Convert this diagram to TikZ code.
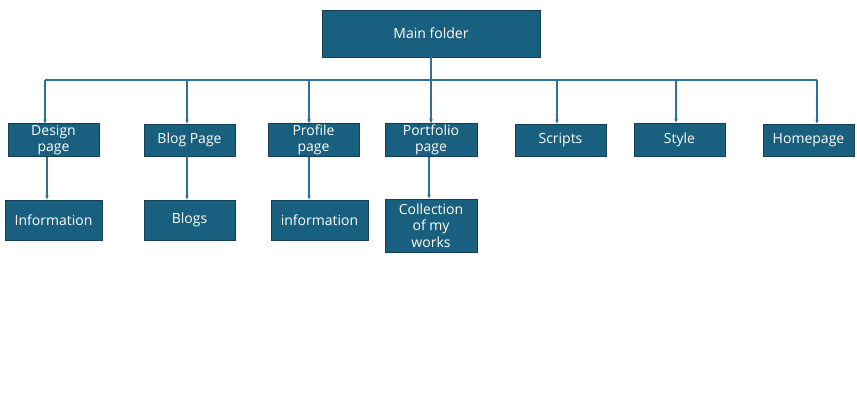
\documentclass[tikz,border=0pt]{standalone}
\usepackage{fontspec}
\setmainfont{Open Sans}
\usetikzlibrary{arrows.meta}
\definecolor{boxfill}{HTML}{185F80}
\definecolor{boxline}{HTML}{163E54}
\definecolor{linkcol}{HTML}{2F719A}

\begin{document}
\begin{tikzpicture}[x=1pt,y=-1pt,
  folder/.style={draw=boxline,fill=boxfill,text=white,line width=0.9pt,
    minimum height=32pt,align=center,font=\fontsize{14}{16.5}\selectfont,inner sep=1pt},
  link/.style={draw=linkcol,line width=1.2pt,-{Stealth[length=4pt,width=3.5pt]}}]
  \useasboundingbox (0,0) rectangle (857,406);

  \node[folder,minimum width=218pt,minimum height=47pt] (main) at (431,33.5) {Main folder};

  \node[folder,minimum width=91pt] (design) at (53.5,140) {Design\\page};
  \node[folder,minimum width=91pt] (blog) at (189.5,140) {Blog Page};
  \node[folder,minimum width=91pt] (profile) at (313.5,140) {Profile\\page};
  \node[folder,minimum width=92pt] (portfolio) at (431,140) {Portfolio\\page};
  \node[folder,minimum width=91pt] (scripts) at (560.5,140) {Scripts};
  \node[folder,minimum width=91pt,minimum height=33pt] (style) at (679.5,139.5) {Style};
  \node[folder,minimum width=91pt] (homepage) at (808.5,140) {Homepage};

  \node[folder,minimum width=97pt,minimum height=40pt] (info1) at (53.5,220) {Information};
  \node[folder,minimum width=91pt,minimum height=40pt] (blogs) at (189.5,220) {Blogs};
  \node[folder,minimum width=97pt,minimum height=40pt] (info2) at (319.5,220) {information};
  \node[folder,minimum width=92pt,minimum height=53pt] (works) at (431,225.5) {Collection\\of my\\works};

  \coordinate (bus) at (431,80);

  % main folder down to the first row
  \draw[link] (main) -- (portfolio);
  \draw[draw=linkcol,line width=1.2pt] ([xshift=-8.5pt]bus -| design) -- ([xshift=8.5pt]bus -| homepage);
  \foreach \n/\dx in {design/-8.5,blog/-2.5,profile/-4.5,scripts/-3.5,style/-3.5,homepage/8.5}
    \draw[link] ([xshift=\dx pt]bus -| \n) -- ([xshift=\dx pt]\n.north);

  % second row
  \foreach \a/\b/\dx in {design/info1/-6.5,blog/blogs/-2.5,profile/info2/-4.5,portfolio/works/-2}
    \draw[link] ([xshift=\dx pt]\a.south) -- ([xshift=\dx pt]\a.south |- \b.north);
\end{tikzpicture}
\end{document}
